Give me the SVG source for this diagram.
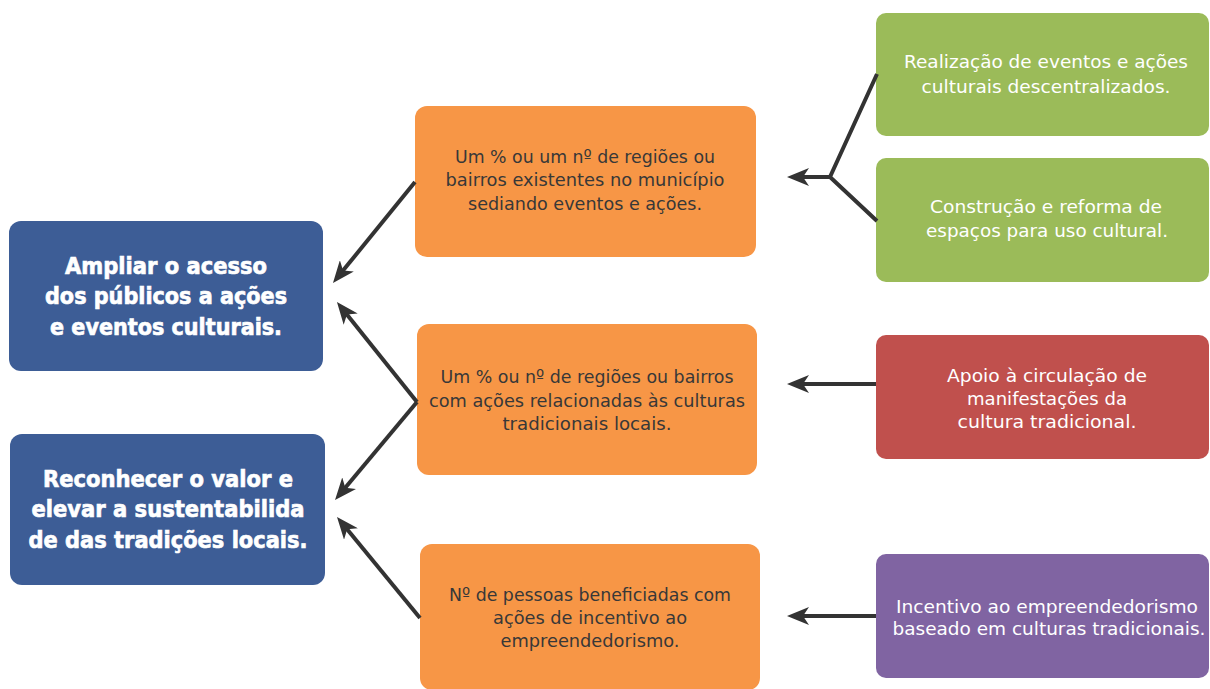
<svg xmlns="http://www.w3.org/2000/svg" width="1210" height="689" viewBox="0 0 1210 689">
<style>
.blue{fill:#3d5d96}
.orange{fill:#f79646}
.green{fill:#9bbb59}
.red{fill:#c0504d}
.purple{fill:#8064a2}
.tb{font-family:"DejaVu Sans",Verdana,sans-serif;font-weight:bold;font-size:23px;fill:#fff;stroke:#fff;stroke-width:0.7;text-anchor:middle}
.to{font-family:"DejaVu Sans",Verdana,sans-serif;font-size:18.5px;fill:#383838;text-anchor:middle}
.tw{font-family:"DejaVu Sans",Verdana,sans-serif;font-size:18.5px;fill:#fff;text-anchor:middle}
.conn{stroke:#333;stroke-width:4;fill:none}
</style>
<defs>
<marker id="ah" viewBox="0 0 22 18" markerWidth="22" markerHeight="18" refX="8" refY="9" orient="auto" markerUnits="userSpaceOnUse">
<path d="M0,0 L22,9 L0,18 L6,9 z" fill="#333"/>
</marker>
</defs>
<g id="n1"><rect class="blue" x="9" y="221" width="314" height="150" rx="12"/>
<text class="tb" x="166" y="274" textLength="202" lengthAdjust="spacingAndGlyphs">Ampliar o acesso</text>
<text class="tb" x="166" y="304" textLength="242" lengthAdjust="spacingAndGlyphs">dos públicos a ações</text>
<text class="tb" x="166" y="335" textLength="232" lengthAdjust="spacingAndGlyphs">e eventos culturais.</text></g>
<g id="n2"><rect class="blue" x="10" y="434" width="315" height="151" rx="12"/>
<text class="tb" x="168" y="487" textLength="250" lengthAdjust="spacingAndGlyphs">Reconhecer o valor e</text>
<text class="tb" x="168" y="517" textLength="273" lengthAdjust="spacingAndGlyphs">elevar a sustentabilida</text>
<text class="tb" x="168" y="548" textLength="279" lengthAdjust="spacingAndGlyphs">de das tradições locais.</text></g>
<g id="n3"><rect class="orange" x="415" y="106" width="341" height="151" rx="12"/>
<text class="to" x="585" y="163" textLength="260" lengthAdjust="spacingAndGlyphs">Um % ou um nº de regiões ou</text>
<text class="to" x="585" y="186" textLength="279" lengthAdjust="spacingAndGlyphs">bairros existentes no município</text>
<text class="to" x="585" y="210" textLength="234" lengthAdjust="spacingAndGlyphs">sediando eventos e ações.</text></g>
<g id="n4"><rect class="orange" x="417" y="324" width="340" height="151" rx="12"/>
<text class="to" x="587" y="383" textLength="293" lengthAdjust="spacingAndGlyphs">Um % ou nº de regiões ou bairros</text>
<text class="to" x="587" y="407" textLength="316" lengthAdjust="spacingAndGlyphs">com ações relacionadas às culturas</text>
<text class="to" x="587" y="430" textLength="169" lengthAdjust="spacingAndGlyphs">tradicionais locais.</text></g>
<g id="n5"><rect class="orange" x="420" y="544" width="340" height="146" rx="12"/>
<text class="to" x="590" y="601" textLength="282" lengthAdjust="spacingAndGlyphs">Nº de pessoas beneficiadas com</text>
<text class="to" x="590" y="624" textLength="194" lengthAdjust="spacingAndGlyphs">ações de incentivo ao</text>
<text class="to" x="590" y="647" textLength="179" lengthAdjust="spacingAndGlyphs">empreendedorismo.</text></g>
<g id="n6"><rect class="green" x="876" y="13" width="333" height="123" rx="10"/>
<text class="tw" x="1046" y="68" textLength="284" lengthAdjust="spacingAndGlyphs">Realização de eventos e ações</text>
<text class="tw" x="1046" y="93" textLength="249" lengthAdjust="spacingAndGlyphs">culturais descentralizados.</text></g>
<g id="n7"><rect class="green" x="876" y="158" width="333" height="124" rx="10"/>
<text class="tw" x="1046" y="213" textLength="232" lengthAdjust="spacingAndGlyphs">Construção e reforma de</text>
<text class="tw" x="1047" y="237" textLength="242" lengthAdjust="spacingAndGlyphs">espaços para uso cultural.</text></g>
<g id="n8"><rect class="red" x="876" y="335" width="333" height="124" rx="10"/>
<text class="tw" x="1047" y="382" textLength="200" lengthAdjust="spacingAndGlyphs">Apoio à circulação de</text>
<text class="tw" x="1047" y="405" textLength="160" lengthAdjust="spacingAndGlyphs">manifestações da</text>
<text class="tw" x="1047" y="428" textLength="179" lengthAdjust="spacingAndGlyphs">cultura tradicional.</text></g>
<g id="n9"><rect class="purple" x="876" y="554" width="333" height="124" rx="10"/>
<text class="tw" x="1047" y="613" textLength="302" lengthAdjust="spacingAndGlyphs">Incentivo ao empreendedorismo</text>
<text class="tw" x="1049" y="635" textLength="313" lengthAdjust="spacingAndGlyphs">baseado em culturas tradicionais.</text></g>
<g id="connectors">
<line class="conn" x1="415" y1="182" x2="341.8" y2="272.1" marker-end="url(#ah)"/>
<line class="conn" x1="417" y1="402" x2="345.7" y2="313" marker-end="url(#ah)"/>
<line class="conn" x1="417" y1="402" x2="344" y2="489.3" marker-end="url(#ah)"/>
<line class="conn" x1="420" y1="618" x2="345.9" y2="527.8" marker-end="url(#ah)"/>
<polyline class="conn" points="877,74 830,177 877,221"/>
<line class="conn" x1="830" y1="177" x2="801" y2="177" marker-end="url(#ah)"/>
<line class="conn" x1="876" y1="384" x2="801" y2="384" marker-end="url(#ah)"/>
<line class="conn" x1="876" y1="616" x2="801" y2="616" marker-end="url(#ah)"/>
</g>
</svg>
